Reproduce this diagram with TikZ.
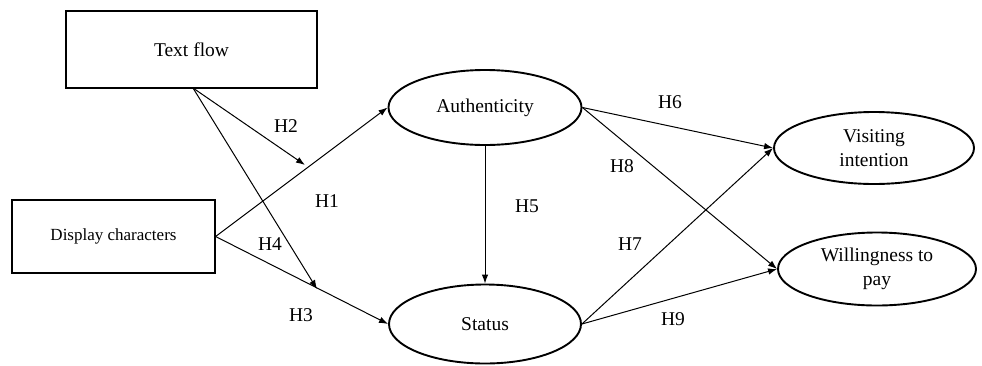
\documentclass[tikz,border=0pt]{standalone}
\usepackage{fontspec}
\setmainfont{Liberation Serif}
\usetikzlibrary{shapes.geometric,arrows.meta}
\begin{document}
\begin{tikzpicture}[x=1bp,y=-1bp,
  box/.style={draw,line width=1.3bp,inner sep=0pt,font=\fontsize{19.5bp}{23bp}\selectfont},
  oval/.style={draw,ellipse,line width=1.9bp,inner sep=0pt,align=center,font=\fontsize{19.5bp}{24.5bp}\selectfont},
  arr/.style={line width=1bp,-{Latex[length=9bp,width=6.5bp]}},
  hlab/.style={font=\fontsize{19.5bp}{23bp}\selectfont,inner sep=0pt}]
\useasboundingbox (0,0) rectangle (982,365);
\node[box,minimum width=251bp,minimum height=77bp] (tf) at (191.5,49.5) {Text flow};
\node[box,minimum width=203bp,minimum height=73bp,font=\fontsize{17bp}{20bp}\selectfont] (dc) at (113.5,236.5) {Display characters};
\node[oval,minimum width=193bp,minimum height=75bp] (au) at (485,107.5) {Authenticity};
\node[oval,minimum width=192bp,minimum height=79bp] (st) at (485,324) {Status};
\node[oval,minimum width=200bp,minimum height=72bp] (vi) at (874,148) {Visiting\\intention};
\node[oval,minimum width=198bp,minimum height=73bp] (wp) at (877,269) {Willingness to\\pay};
\coordinate (tfb) at (193,88);
\coordinate (h2end) at (305,165);
\coordinate (h4end) at (317,289);
\draw[arr] (dc.east) -- (au.west);
\draw[arr] (dc.east) -- (st.west);
\draw[arr] (tfb) -- (h2end);
\draw[arr] (tfb) -- (h4end);
\draw[arr] (au.south) -- (st.north);
\draw[arr] (au.east) -- (vi.west);
\draw[arr] (au.east) -- (wp.west);
\draw[arr] (st.east) -- (vi.west);
\draw[arr] (st.east) -- (wp.west);
\node[hlab] (l2) at (286,126) {H2};
\node[hlab] (l1) at (327,201) {H1};
\node[hlab] (l4) at (270,244) {H4};
\node[hlab] (l3) at (301,315) {H3};
\node[hlab] (l5) at (527,206) {H5};
\node[hlab] (l6) at (670,102) {H6};
\node[hlab] (l8) at (622,166) {H8};
\node[hlab] (l7) at (630,244) {H7};
\node[hlab] (l9) at (673,319) {H9};
\end{tikzpicture}
\end{document}
